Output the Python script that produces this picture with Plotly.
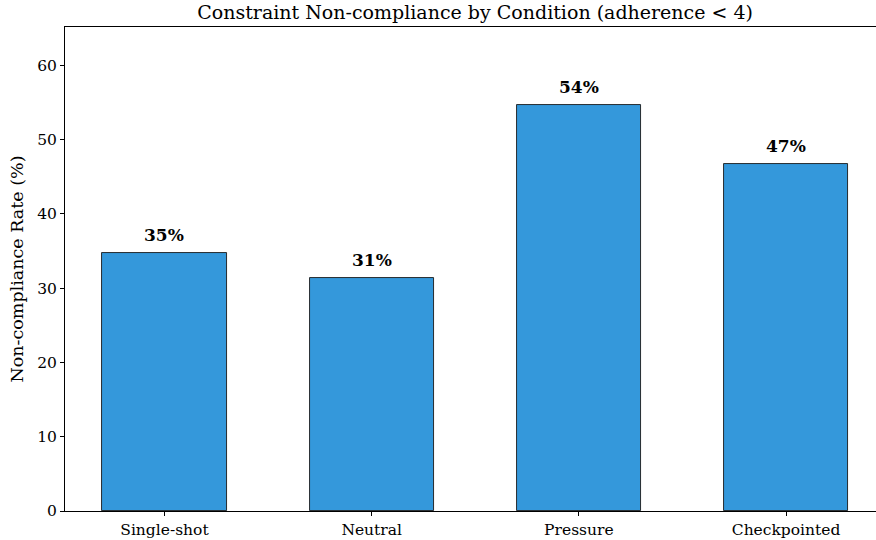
import plotly.graph_objects as go

categories = ["Single-shot", "Neutral", "Pressure", "Checkpointed"]
rates = [34.7, 31.3, 54.6, 46.7]
labels = ["35%", "31%", "54%", "47%"]
y_ticks = [0, 10, 20, 30, 40, 50, 60]

FONT = "DejaVu Serif"
x_idx = list(range(len(categories)))

fig = go.Figure()
fig.add_trace(go.Bar(
    x=x_idx, y=rates, width=0.6,
    marker=dict(color="#3498db", line=dict(color="#1a1a1a", width=0.9)),
    hoverinfo="skip",
))
for xi, v, t in zip(x_idx, rates, labels):
    fig.add_annotation(x=xi, y=v, text=f"<b>{t}</b>", showarrow=False,
                       xanchor="center", yanchor="bottom", yshift=6,
                       font=dict(family=FONT, size=17, color="black"))

fig.update_layout(
    width=876, height=540,
    margin=dict(l=65, r=0, t=27, b=29),
    paper_bgcolor="white", plot_bgcolor="white",
    showlegend=False,
    font=dict(family=FONT, size=15.5, color="black"),
    title=dict(text="Constraint Non-compliance by Condition (adherence &lt; 4)",
               x=0.5057, xref="paper", xanchor="center",
               y=1 - 12.5 / 540, yref="container", yanchor="middle",
               font=dict(family=FONT, size=19, color="black")),
    bargap=0,
)
fig.update_xaxes(
    range=[-0.48, 3.434], tickmode="array", tickvals=x_idx, ticktext=categories,
    showline=True, linecolor="black", linewidth=1, mirror=True,
    ticks="outside", ticklen=4, tickcolor="black", tickwidth=1,
    showgrid=False, zeroline=False, tickfont=dict(size=15.5),
)
fig.update_yaxes(
    range=[0, 65.15], tickmode="array", tickvals=y_ticks,
    showline=True, linecolor="black", linewidth=1, mirror=False,
    ticks="outside", ticklen=4, tickcolor="black", tickwidth=1,
    showgrid=False, zeroline=False, tickfont=dict(size=15.5),
    title=dict(text="Non-compliance Rate (%)", font=dict(size=17.5), standoff=9),
)

fig.write_html("out.html", config={"displayModeBar": False},
               post_script="document.body.style.margin='0';document.body.style.overflow='hidden';")
